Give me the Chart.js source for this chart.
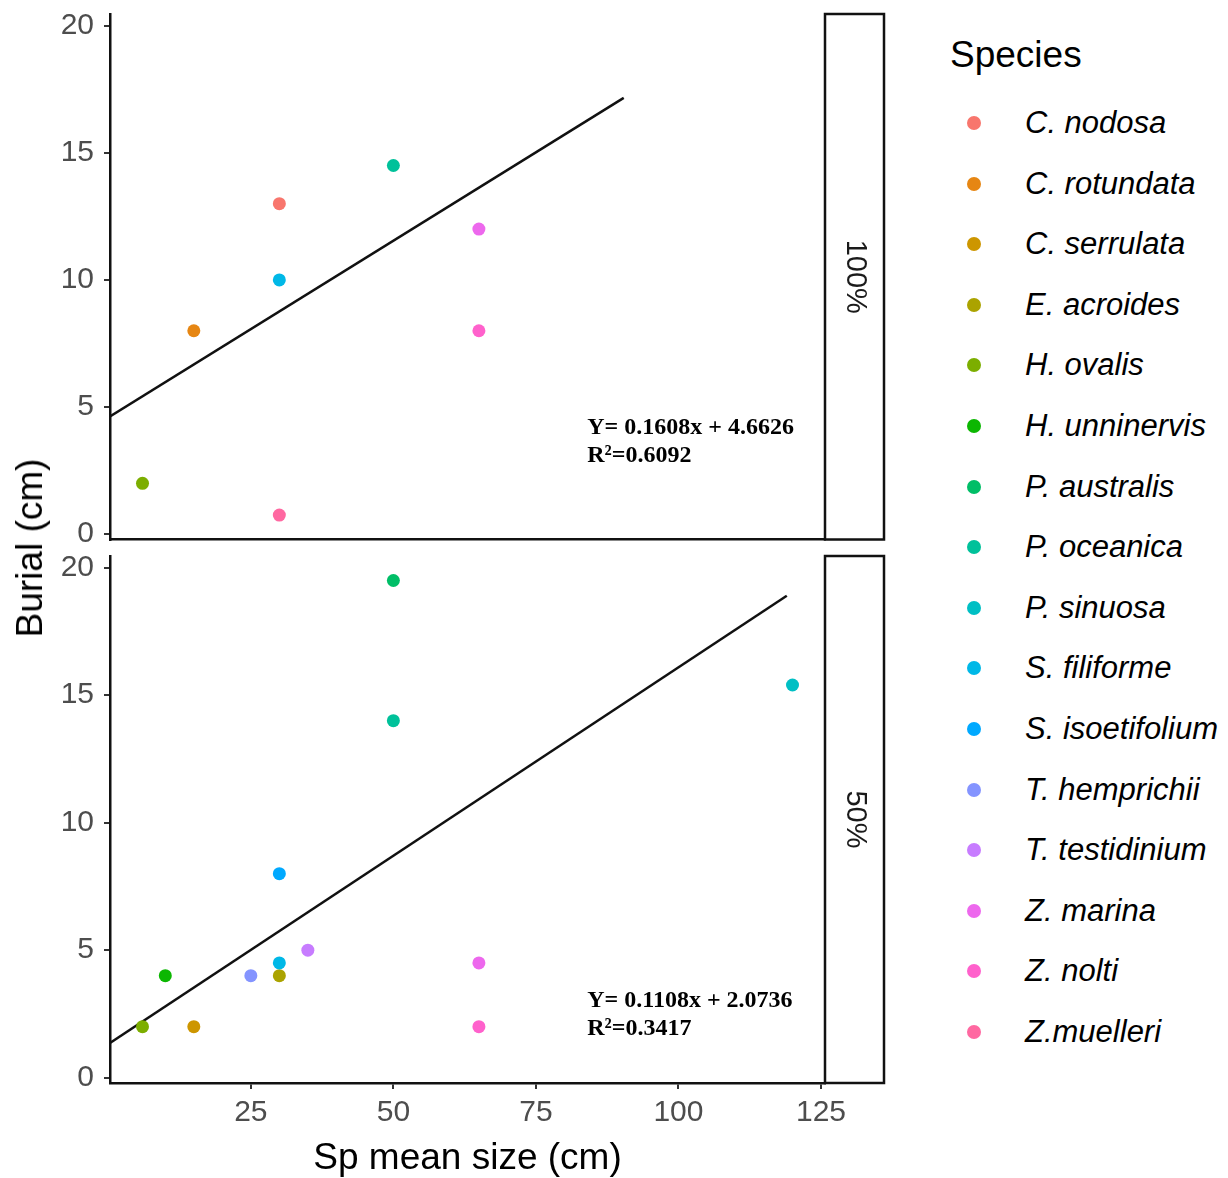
<!DOCTYPE html>
<html>
<head>
<meta charset="utf-8">
<title>Burial vs species mean size</title>
<script src="https://cdn.jsdelivr.net/npm/chart.js@4.4.1/dist/chart.umd.min.js"></script>
<style>
  body { margin: 0; background: #fff; }
  #wrap { position: relative; width: 1228px; height: 1178px; overflow: hidden;
          font-family: "Liberation Sans", Arial, sans-serif; }
  .panel { position: absolute; left: 0; width: 900px; }
  #topPanel { top: 0; height: 560px; }
  #bottomPanel { top: 545px; height: 633px; }
  #ytitle { position: absolute; left: 30px; top: 548px; transform: translate(-50%, -50%) rotate(-90deg);
            font-size: 37px; color: #000; white-space: nowrap; }
  #legendTitle { position: absolute; left: 950px; top: 55px; transform: translateY(-50%);
                 font-size: 37px; color: #000; }
  .item { position: absolute; left: 967px; height: 40px; transform: translateY(-50%);
          display: flex; align-items: center; }
  .dot { width: 14px; height: 14px; border-radius: 50%; margin-right: 44px; }
  .lab { font-size: 31px; font-style: italic; color: #000; white-space: nowrap; }
</style>
</head>
<body>
<div id="wrap">
  <div class="panel" id="topPanel"><canvas id="chart100"></canvas></div>
  <div class="panel" id="bottomPanel"><canvas id="chart50"></canvas></div>
  <div id="ytitle">Burial (cm)</div>
  <div id="legendTitle">Species</div>
  <div id="legend"></div>
</div>
<script>
// species and their ggplot hue colours
const species = ['C. nodosa', 'C. rotundata', 'C. serrulata', 'E. acroides', 'H. ovalis', 'H. unninervis',
  'P. australis', 'P. oceanica', 'P. sinuosa', 'S. filiforme', 'S. isoetifolium', 'T. hemprichii',
  'T. testidinium', 'Z. marina', 'Z. nolti', 'Z.muelleri'];
const speciesColors = ['#F8766D', '#E68613', '#CD9600', '#ABA300', '#7CAE00', '#0CB702',
  '#00BE67', '#00C19A', '#00BFC4', '#00B8E7', '#00A9FF', '#8494FF',
  '#C77CFF', '#ED68ED', '#FF61CC', '#FF68A1'];

// 100% burial panel
const sp100 = ['C. nodosa', 'C. rotundata', 'H. ovalis', 'P. oceanica', 'S. filiforme', 'Z. marina', 'Z. nolti', 'Z.muelleri'];
const size100 = [30, 15, 6, 50, 30, 65, 65, 30];
const burial100 = [13, 8, 2, 14.5, 10, 12, 8, 0.75];
const fitSize100 = [0.3, 90.4];
const fitBurial100 = [4.63, 17.16];
const eq100 = ['Y= 0.1608x + 4.6626', 'R²=0.6092'];

// 50% burial panel
const sp50 = ['C. serrulata', 'E. acroides', 'H. ovalis', 'H. unninervis', 'P. australis', 'P. oceanica',
  'P. sinuosa', 'S. filiforme', 'S. isoetifolium', 'T. hemprichii', 'T. testidinium', 'Z. marina', 'Z. nolti'];
const size50 = [15, 30, 6, 10, 50, 50, 120, 30, 30, 25, 35, 65, 65];
const burial50 = [2, 4, 2, 4, 19.5, 14, 15.4, 4.5, 8, 4, 5, 4.5, 2];
const fitSize50 = [0.3, 119];
const fitBurial50 = [1.36, 18.9];
const eq50 = ['Y= 0.1108x + 2.0736', 'R²=0.3417'];

const xTicks = [25, 50, 75, 100, 125];
const yTicks = [0, 5, 10, 15, 20];

// legend
const legendEl = document.getElementById('legend');
species.forEach((name, i) => {
  const row = document.createElement('div');
  row.className = 'item';
  row.style.top = (123 + i * 60.6) + 'px';
  row.innerHTML = '<div class="dot" style="background:' + speciesColors[i] + '"></div><span class="lab">' + name + '</span>';
  legendEl.appendChild(row);
});

// strip box on the right + regression equation text
const facetPlugin = {
  id: 'facet',
  afterDatasetsDraw(chart, args, opts) {
    const { ctx, chartArea, scales } = chart;
    ctx.save();
    // equation
    ctx.font = 'bold 24px "Liberation Serif", "Times New Roman", serif';
    ctx.fillStyle = '#000';
    ctx.textAlign = 'left';
    ctx.textBaseline = 'middle';
    opts.eq.forEach((t, i) => {
      ctx.fillText(t, scales.x.getPixelForValue(84), scales.y.getPixelForValue(opts.eqY[i]));
    });
    // strip
    const left = chartArea.right, right = chartArea.right + 59;
    ctx.fillStyle = '#fff';
    ctx.fillRect(left, chartArea.top, right - left, chartArea.bottom - chartArea.top);
    ctx.strokeStyle = '#111';
    ctx.lineWidth = 2.5;
    ctx.strokeRect(left, chartArea.top, right - left, chartArea.bottom - chartArea.top);
    ctx.translate((left + right) / 2, (chartArea.top + chartArea.bottom) / 2);
    ctx.rotate(Math.PI / 2);
    ctx.font = '29px "Liberation Sans", Arial, sans-serif';
    ctx.fillStyle = '#1A1A1A';
    ctx.textAlign = 'center';
    ctx.textBaseline = 'middle';
    ctx.fillText(opts.label, 0, 0);
    ctx.restore();
  }
};

function noPad(s) {
  s.paddingTop = 0;
  s.paddingBottom = 0;
  s.paddingLeft = 0;
  s.paddingRight = 0;
}

function makePanel(canvasId, sp, xs, ys, fitX, fitY, eq, eqY, label, isBottom) {
  const points = xs.map((x, i) => ({ x: x, y: ys[i] }));
  const colors = sp.map(s => speciesColors[species.indexOf(s)]);
  const fit = fitX.map((x, i) => ({ x: x, y: fitY[i] }));
  const tickFont = { family: '"Liberation Sans", Arial, sans-serif', size: 30 };

  new Chart(document.getElementById(canvasId), {
    type: 'scatter',
    data: {
      datasets: [{
        data: points,
        backgroundColor: colors,
        pointRadius: 6.5,
        pointBorderWidth: 0,
        order: 0
      }, {
        type: 'line',
        data: fit,
        borderColor: '#111',
        borderWidth: 2.5,
        pointRadius: 0,
        fill: false,
        order: 1
      }]
    },
    options: {
      responsive: true,
      maintainAspectRatio: false,
      animation: false,
      layout: { padding: { top: isBottom ? 11 : 14, right: 75, bottom: isBottom ? 0 : 20.5, left: 0 } },
      plugins: {
        legend: { display: false },
        tooltip: { enabled: false },
        facet: { eq: eq, eqY: eqY, label: label }
      },
      scales: {
        x: {
          type: 'linear',
          min: 0.3,
          max: 125.7,
          afterBuildTicks: s => { s.ticks = xTicks.map(v => ({ value: v })); },
          afterFit: s => { s.height = isBottom ? 95 : 0; noPad(s); },
          border: { display: true, color: '#111', width: 2.5 },
          grid: { display: isBottom, drawOnChartArea: false, drawTicks: true, tickLength: 6, color: '#333', lineWidth: 2 },
          ticks: { display: isBottom, color: '#4D4D4D', font: tickFont, padding: 6, maxRotation: 0 },
          title: {
            display: isBottom,
            text: 'Sp mean size (cm)',
            color: '#000',
            font: { family: '"Liberation Sans", Arial, sans-serif', size: 37, lineHeight: 1 },
            padding: { top: 0, bottom: 1 }
          }
        },
        y: {
          type: 'linear',
          min: -0.21,
          max: 20.46,
          afterBuildTicks: s => { s.ticks = yTicks.map(v => ({ value: v })); },
          afterFit: s => { s.width = 110; noPad(s); },
          border: { display: true, color: '#111', width: 2.5 },
          grid: { display: true, drawOnChartArea: false, drawTicks: true, tickLength: 6, color: '#333', lineWidth: 2 },
          ticks: { color: '#4D4D4D', font: tickFont, padding: 10 }
        }
      }
    },
    plugins: [facetPlugin]
  });
}

makePanel('chart100', sp100, size100, burial100, fitSize100, fitBurial100, eq100, [4.17, 3.07], '100%', false);
makePanel('chart50', sp50, size50, burial50, fitSize50, fitBurial50, eq50, [3.0, 1.91], '50%', true);
</script>
</body>
</html>
